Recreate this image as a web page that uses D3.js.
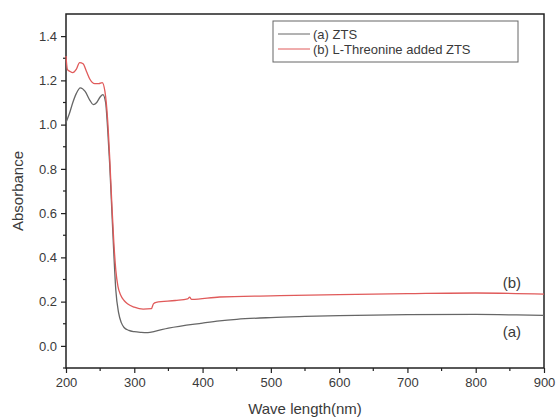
<!DOCTYPE html>
<html>
<head>
<meta charset="utf-8">
<script src="https://cdn.jsdelivr.net/npm/d3@7"></script>
<style>
body { margin: 0; background: #fff; }
svg { font-family: "Liberation Sans", Arial, sans-serif; }
</style>
</head>
<body>
<div id="chart"></div>
<script>
// (a) ZTS
var ztsWave = [200, 205, 210, 215, 221, 228, 235, 240, 245, 250, 254, 258, 261, 264, 267, 270, 273, 277, 281, 285, 292, 300, 310, 320, 330, 350, 400, 425, 450, 500, 550, 600, 700, 800, 860, 900];
var ztsAbs  = [1.01, 1.05, 1.10, 1.14, 1.166, 1.15, 1.11, 1.09, 1.10, 1.125, 1.136, 1.10, 0.98, 0.82, 0.62, 0.42, 0.25, 0.15, 0.105, 0.083, 0.07, 0.064, 0.061, 0.06, 0.066, 0.08, 0.103, 0.113, 0.12, 0.128, 0.133, 0.137, 0.141, 0.142, 0.14, 0.138];

// (b) L-Threonine added ZTS
var thrWave = [200, 202, 206, 210, 215, 220, 225, 230, 235, 242, 248, 253, 257, 261, 264, 267, 270, 273, 276, 280, 285, 290, 300, 313, 325, 328, 332, 360, 378, 381, 384, 425, 500, 600, 700, 800, 900];
var thrAbs  = [1.31, 1.25, 1.24, 1.235, 1.25, 1.28, 1.275, 1.24, 1.205, 1.185, 1.185, 1.19, 1.15, 1.02, 0.85, 0.65, 0.47, 0.34, 0.27, 0.23, 0.205, 0.19, 0.175, 0.166, 0.168, 0.19, 0.197, 0.205, 0.212, 0.22, 0.21, 0.221, 0.226, 0.232, 0.236, 0.239, 0.234];

var xTicks = [200, 300, 400, 500, 600, 700, 800, 900];
var yTicks = [0.0, 0.2, 0.4, 0.6, 0.8, 1.0, 1.2, 1.4];
var legendLabels = ["(a) ZTS", "(b) L-Threonine added ZTS"];
var curveLabels = ["(a)", "(b)"];

var width = 557, height = 418;
var margin = {top: 14, right: 13, bottom: 50, left: 66};
var grayColor = "#666", redColor = "#e05a5a", textColor = "#3a3a3a";

var svg = d3.select("#chart").append("svg")
    .attr("width", width)
    .attr("height", height);

var x = d3.scaleLinear().domain([200, 900]).range([margin.left, width - margin.right]);
var y = d3.scaleLinear().domain([-0.1, 1.5]).range([height - margin.bottom, margin.top]);

function toPoints(w, a) {
    return w.map(function(d, i) { return [d, a[i]]; });
}

var line = d3.line()
    .x(function(d) { return x(d[0]); })
    .y(function(d) { return y(d[1]); })
    .curve(d3.curveMonotoneX);

// minor ticks
var xMinor = d3.range(250, 900, 100);
var yMinor = d3.range(-0.1, 1.5, 0.2);

svg.append("g")
    .attr("transform", "translate(0," + y(-0.1) + ")")
    .selectAll("line")
    .data(xMinor)
    .enter()
    .append("line")
    .attr("x1", function(d) { return x(d); })
    .attr("x2", function(d) { return x(d); })
    .attr("y1", 0).attr("y2", 3)
    .attr("stroke", "#222").attr("stroke-width", 1.2);

svg.append("g")
    .selectAll("line")
    .data(yMinor)
    .enter()
    .append("line")
    .attr("x1", x(200) - 3).attr("x2", x(200))
    .attr("y1", function(d) { return y(d); })
    .attr("y2", function(d) { return y(d); })
    .attr("stroke", "#222").attr("stroke-width", 1.2);

var xAxis = svg.append("g")
    .attr("transform", "translate(0," + y(-0.1) + ")")
    .call(d3.axisBottom(x).tickValues(xTicks).tickSize(5).tickPadding(5).tickFormat(d3.format("d")));

var yAxis = svg.append("g")
    .attr("transform", "translate(" + x(200) + ",0)")
    .call(d3.axisLeft(y).tickValues(yTicks).tickSize(5).tickPadding(4).tickFormat(d3.format(".1f")));

[xAxis, yAxis].forEach(function(ax) {
    ax.select(".domain").remove();
    ax.selectAll(".tick line").attr("stroke", "#222").attr("stroke-width", 1.2);
    ax.selectAll(".tick text").attr("fill", textColor).style("font-size", "13px");
});

// frame
svg.append("rect")
    .attr("x", x(200))
    .attr("y", y(1.5))
    .attr("width", x(900) - x(200))
    .attr("height", y(-0.1) - y(1.5))
    .attr("fill", "none")
    .attr("stroke", "#222")
    .attr("stroke-width", 1.5);

// curves
svg.append("path")
    .datum(toPoints(ztsWave, ztsAbs))
    .attr("d", line)
    .attr("fill", "none")
    .attr("stroke", grayColor)
    .attr("stroke-width", 1.3);

svg.append("path")
    .datum(toPoints(thrWave, thrAbs))
    .attr("d", line)
    .attr("fill", "none")
    .attr("stroke", redColor)
    .attr("stroke-width", 1.3);

// curve labels
svg.append("text")
    .attr("x", x(853)).attr("y", y(0.04))
    .attr("text-anchor", "middle")
    .attr("fill", textColor)
    .style("font-size", "15px")
    .text(curveLabels[0]);

svg.append("text")
    .attr("x", x(853)).attr("y", y(0.26))
    .attr("text-anchor", "middle")
    .attr("fill", textColor)
    .style("font-size", "15px")
    .text(curveLabels[1]);

// legend
var legend = svg.append("g").attr("transform", "translate(273,21)");
legend.append("rect")
    .attr("width", 245).attr("height", 41)
    .attr("fill", "#fff")
    .attr("stroke", "#666")
    .attr("stroke-width", 1);

var legendColors = [grayColor, redColor];
legendLabels.forEach(function(lbl, i) {
    var ly = 13 + i * 15;
    legend.append("line")
        .attr("x1", 5).attr("x2", 37)
        .attr("y1", ly).attr("y2", ly)
        .attr("stroke", legendColors[i]).attr("stroke-width", 1);
    legend.append("text")
        .attr("x", 40).attr("y", ly + 4.5)
        .attr("fill", textColor)
        .style("font-size", "13px")
        .text(lbl);
});

// axis titles
svg.append("text")
    .attr("x", (x(200) + x(900)) / 2)
    .attr("y", 414)
    .attr("text-anchor", "middle")
    .attr("fill", textColor)
    .style("font-size", "15px")
    .text("Wave length(nm)");

svg.append("text")
    .attr("transform", "translate(23," + y(0.7) + ") rotate(-90)")
    .attr("text-anchor", "middle")
    .attr("fill", textColor)
    .style("font-size", "15px")
    .text("Absorbance");
</script>
</body>
</html>
